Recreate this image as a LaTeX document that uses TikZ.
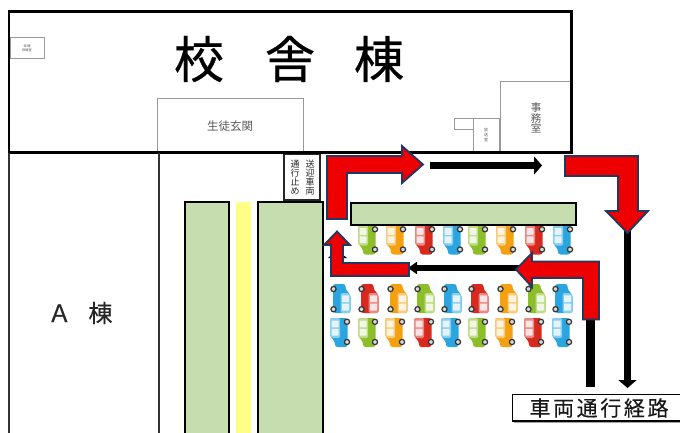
\documentclass[tikz,border=0pt]{standalone}
\usepackage{fontspec}
\setmainfont{Noto Sans CJK JP}
\newfontfamily\heavyfont[FakeBold=0.6]{Noto Sans CJK JP}
\newfontfamily\semifont[FakeBold=0.25]{Noto Sans CJK JP}
\usetikzlibrary{arrows.meta}
\definecolor{cblue}{HTML}{2AA5DF}
\definecolor{cgreen}{HTML}{8CBE2A}
\definecolor{corange}{HTML}{F5A010}
\definecolor{cred}{HTML}{D9291F}
\definecolor{lawn}{HTML}{C6DDB0}
\definecolor{walk}{HTML}{FFFF88}
\definecolor{arrowred}{HTML}{EE0000}
\definecolor{arrowedge}{HTML}{1F3864}
\newcommand{\carbody}[1]{%
  \fill[#1,rounded corners=2.5pt] (0,0) -- (17.5,0) -- (17.5,29) -- (5,29) -- (5,24) -- (0,18) -- cycle;
  \fill[#1!55!white,rounded corners=1.5pt] (0,0) -- (10,0) -- (10,20) -- (2,20) -- (0,18) -- cycle;
  \fill[#1!12!white,rounded corners=.6pt] (1.5,2.5) rectangle (8.5,9.4);
  \fill[#1!12!white,rounded corners=.6pt] (1.5,10.8) rectangle (8.5,17.7);
  \filldraw[fill=black!15,draw=black!80,line width=1.2pt] (17,3.8) circle (2.6);
  \filldraw[fill=black!15,draw=black!80,line width=1.2pt] (17,24) circle (2.6);
}
\newcommand{\carright}[3]{\begin{scope}[shift={(#1,#2)}]\carbody{#3}\end{scope}}
\newcommand{\carleft}[3]{\begin{scope}[shift={(#1+20.5,#2+29)},rotate=180]\carbody{#3}\end{scope}}
\tikzset{
  x=1pt,y=-1pt,
  wall/.style={draw=black,line width=2.6pt},
  thinwall/.style={draw=black!80,line width=1.7pt},
  room/.style={draw=black!40,line width=.9pt,fill=white},
  roomlabel/.style={text=black!65,inner sep=0pt,align=center},
  lawnbed/.style={draw=black,fill=lawn,line width=2pt},
  redarrow/.style={draw=arrowedge,fill=arrowred,line width=1.8pt,line join=miter},
  route/.style={draw=black,line width=7pt},
  routehead/.style={-{Triangle[length=8pt,width=18pt]}},
  vertlabel/.style={inner sep=0pt,align=center,font=\fontsize{9}{9}\selectfont,text=black!85},
  titlechar/.style={inner sep=0pt,font=\heavyfont\fontsize{50}{50}\selectfont},
}
\begin{document}
\begin{tikzpicture}
\useasboundingbox (0,0) rectangle (680,433);
\fill[white] (0,0) rectangle (680,433);
% rooms
\draw[room] (10,37) rectangle (44,58);
\node[roomlabel,font=\fontsize{3.2}{4}\selectfont] (hoken) at (27,48) {保\,健\\保健室};
\draw[room] (157,98) rectangle (303,152);
\node[roomlabel,font=\fontsize{11.5}{12}\selectfont] (genkan) at (230,126) {生徒玄関};
\draw[room] (500,81) rectangle (570,152);
\node[roomlabel,font=\fontsize{10.5}{10.5}\selectfont] (jimu) at (536,118) {事\\務\\室};
\draw[room] (454,118) rectangle (473,129);
\draw[room] (473,118) rectangle (499,152);
\node[roomlabel,font=\fontsize{4}{4.6}\selectfont] (hoso) at (486,135) {放\\送\\室};
% building outlines
\draw[wall] (9,11.5) rectangle (571.5,152.5);
\draw[thinwall] (9,153) -- (9,433);
\draw[thinwall] (158.8,153) -- (158.8,433);
\node[titlechar] (t1) at (199,59) {校};
\node[titlechar] (t2) at (290,59) {舎};
\node[titlechar] (t3) at (379,59) {棟};
\node[inner sep=0pt,font=\semifont\fontsize{24}{24}\selectfont,text=black!85] (abldg) at (80,313) {Ａ\hspace{17pt}棟};
% sign
\draw[draw=black!85,fill=white,line width=1.5pt] (284,154.5) rectangle (320,200);
\node[vertlabel] (sign1) at (310,177.5) {送\\迎\\車\\両};
\node[vertlabel] (sign2) at (295,177.5) {通\\行\\止\\め};
% green beds and walkway
\draw[lawnbed] (185,202) rectangle (229,436);
\draw[lawnbed] (258,202) rectangle (323,436);
\fill[walk] (236,202) rectangle (251,433);
% cars
\foreach \x/\c in {358/cgreen,386/corange,415/cred,443/cblue,468/cgreen,496/corange,525/cred,553/cblue}
  {\carright{\x}{225.5}{\c}}
\foreach \x/\c in {330/cblue,358/cred,387/corange,414/cgreen,441/cblue,468/cred,497/corange,525/cgreen,552/cblue}
  {\carleft{\x}{284}{\c}}
\foreach \x/\c in {330/cblue,358/cgreen,385/corange,414/cred,441/cblue,468/cgreen,495/corange,524/cred,552/cblue}
  {\carright{\x}{318}{\c}}
\draw[lawnbed] (351,202.5) rectangle (576,225);
% black route lines
\coordinate (r1a) at (430,165.5); \coordinate (r1b) at (542,165.5);
\draw[route,routehead] (r1a) -- (r1b);
\coordinate (r2a) at (627.5,230); \coordinate (r2b) at (627.5,388);
\draw[route,routehead] (r2a) -- (r2b);
\coordinate (r3a) at (590.5,318); \coordinate (r3b) at (590.5,387);
\draw[line width=9pt,draw=black] (r3a) -- (r3b);
\coordinate (r4a) at (520,268); \coordinate (r4b) at (408,268);
\draw[line width=6.5pt,draw=black,-{Triangle[length=9pt,width=12pt]}] (r4a) -- (r4b);
\fill[black] (337,250) -- (347,258) -- (328,258) -- cycle;
% red arrows
\draw[redarrow] (327,219) -- (327,156) -- (402,156) -- (402,146) -- (423,164.5) -- (402,183) -- (402,173) -- (347,173) -- (347,219) -- cycle;
\draw[redarrow] (565,156) -- (638,156) -- (638,211) -- (648,211) -- (627.5,233) -- (606,211) -- (618,211) -- (618,176) -- (565,176) -- cycle;
\draw[redarrow] (583,319.5) -- (599,319.5) -- (599,261.5) -- (532,261.5) -- (532,253) -- (516,269.5) -- (532,287) -- (532,278) -- (583,278) -- cycle;
\draw[redarrow] (409,263) -- (343,263) -- (343,245) -- (350,245) -- (337,231.5) -- (324,245) -- (331,245) -- (331,276) -- (409,276) -- cycle;
% legend
\draw[draw=black!35,line width=1pt] (514,422.5) -- (680,422.5);
\draw[draw=black,line width=1.5pt] (680,394.5) -- (512.5,394.5) -- (512.5,421) -- (680,421);
\node[inner sep=0pt,font=\semifont\fontsize{21}{21}\selectfont,text=black!90] (legend) at (599,408) {車\hspace{2.6pt}両\hspace{2.6pt}通\hspace{2.6pt}行\hspace{2.6pt}経\hspace{2.6pt}路};
\end{tikzpicture}
\end{document}
